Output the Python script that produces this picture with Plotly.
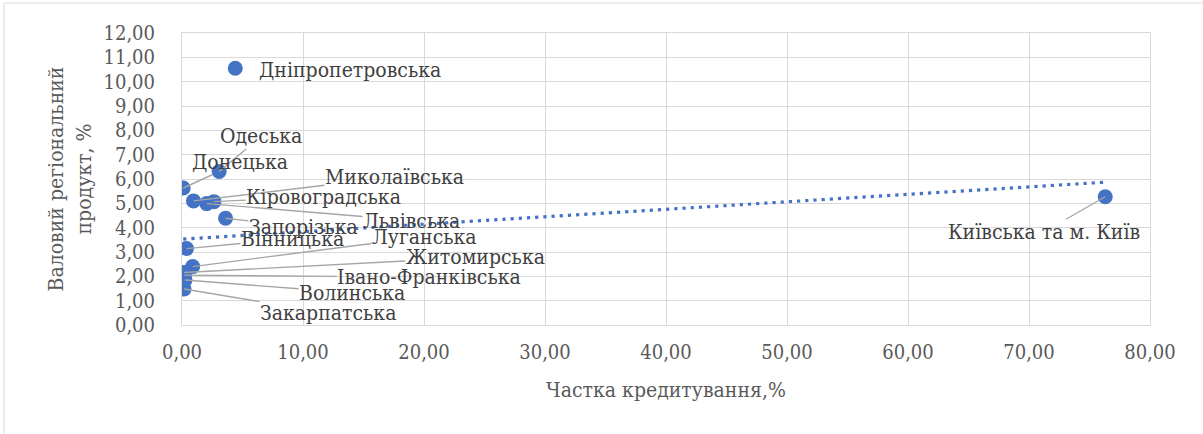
import plotly.graph_objects as go

# Regional shares: lending share (%) vs gross regional product share (%)
regions = [
    "Дніпропетровська", "Одеська", "Донецька", "Миколаївська",
    "Кіровоградська", "Львівська", "Запорізька", "Вінницька",
    "Луганська", "Житомирська", "Івано-Франківська", "Волинська",
    "Закарпатська", "Київська та м. Київ",
]
credit_share = [4.40, 3.07, 0.10, 0.95, 2.64, 2.04, 3.60, 0.37,
                0.88, 0.17, 0.20, 0.25, 0.17, 76.30]
grp_share = [10.55, 6.31, 5.63, 5.10, 5.07, 4.99, 4.39, 3.14,
             2.40, 2.16, 2.05, 1.85, 1.48, 5.27]

# Linear trendline end points
trend_x = [0.10, 76.30]
trend_y = [3.53, 5.87]

x_ticks = [0, 10, 20, 30, 40, 50, 60, 70, 80]
y_ticks = list(range(0, 13))

BLUE = "#4472C4"
GRID = "#D9D9D9"
TEXT = "#595959"
LABEL = "#404040"
LEADER = "#A6A6A6"
FONT = "DejaVu Serif Condensed, DejaVu Serif"

# Label placement (pixel offset of the label centre from its point)
label_offsets = {
    "Дніпропетровська": (115, 2, False),
    "Одеська": (42, -35, True),
    "Донецька": (57, -26, True),
    "Миколаївська": (201, -24, True),
    "Кіровоградська": (110, -5, True),
    "Львівська": (205, 17, True),
    "Запорізька": (78, 9, True),
    "Вінницька": (106, -10, True),
    "Луганська": (232, -30, True),
    "Житомирська": (291, -15, True),
    "Івано-Франківська": (245, 2, True),
    "Волинська": (167, 13, True),
    "Закарпатська": (144, 24, True),
    "Київська та м. Київ": (-61, 35, True),
}

fig = go.Figure()

fig.add_trace(go.Scatter(
    x=trend_x, y=trend_y, mode="lines",
    line=dict(color=BLUE, width=3.2, dash="3.2px,5px"),
    hoverinfo="skip", showlegend=False,
))

fig.add_trace(go.Scatter(
    x=credit_share, y=grp_share, mode="markers",
    marker=dict(color=BLUE, size=15, line=dict(width=0)),
    text=regions, hovertemplate="%{text}<br>%{x:.2f}; %{y:.2f}<extra></extra>",
    showlegend=False,
))

annotations = []
for name, xv, yv in zip(regions, credit_share, grp_share):
    dx, dy, leader = label_offsets[name]
    annotations.append(dict(
        x=xv, y=yv, xref="x", yref="y",
        text=name, showarrow=True,
        ax=dx, ay=dy, axref="pixel", ayref="pixel",
        arrowhead=0, arrowwidth=1.4, standoff=0, startstandoff=0,
        arrowcolor=LEADER if leader else "rgba(0,0,0,0)",
        font=dict(family=FONT, size=21, color=LABEL),
        borderpad=0,
    ))

fig.update_layout(
    width=1203, height=434,
    margin=dict(l=182, r=53, t=33, b=109),
    paper_bgcolor="white", plot_bgcolor="white",
    separators=", ",
    font=dict(family=FONT, size=21, color=TEXT),
    annotations=annotations,
    shapes=[dict(
        type="rect", xref="paper", yref="paper",
        x0=-0.1839, x1=1.2, y0=-0.5, y1=1.1027,
        line=dict(color=GRID, width=1), fillcolor="rgba(0,0,0,0)",
        layer="below",
    )],
)

fig.update_xaxes(
    range=[0, 80], tickvals=x_ticks, tickformat=".2f",
    showgrid=True, gridcolor=GRID, gridwidth=1,
    showline=True, linecolor=GRID, linewidth=1, mirror=True,
    zeroline=False, ticks="", ticklabelstandoff=9,
    tickfont=dict(family=FONT, size=20, color=TEXT),
    title=dict(text="Частка кредитування,%", standoff=19,
               font=dict(family=FONT, size=21, color=TEXT)),
)
fig.update_yaxes(
    range=[0, 12], tickvals=y_ticks, tickformat=".2f",
    showgrid=True, gridcolor=GRID, gridwidth=1,
    showline=True, linecolor=GRID, linewidth=1, mirror=True,
    zeroline=False, ticks="", ticklabelstandoff=22,
    tickfont=dict(family=FONT, size=20, color=TEXT),
    title=dict(text="Валовий регіональний<br>продукт, %", standoff=6,
               font=dict(family=FONT, size=21, color=TEXT)),
)

fig.write_html("out.html")
